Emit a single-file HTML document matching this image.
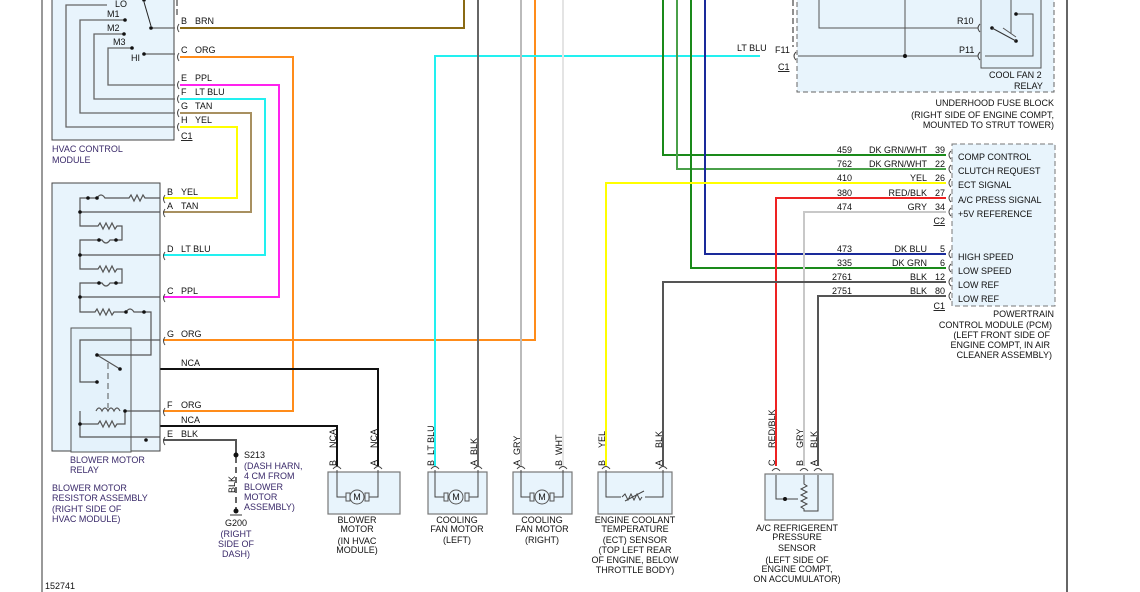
<!DOCTYPE html>
<html><head><meta charset="utf-8"><style>
html,body{margin:0;padding:0;background:#fff}
svg{display:block}
text{font-family:"Liberation Sans",sans-serif;font-size:9px;fill:#111}
.p{fill:#3a2a6a}
</style></head><body>
<svg width="1140" height="592" viewBox="0 0 1140 592" xmlns="http://www.w3.org/2000/svg">
<!-- frame -->
<line x1="42" y1="0" x2="42" y2="592" stroke="#333" stroke-width="1"/>
<line x1="1067" y1="0" x2="1067" y2="592" stroke="#333" stroke-width="1.5"/>

<!-- HVAC module -->
<rect x="52" y="-2" width="122" height="142" fill="#e8f4fc" stroke="#444"/>
<line x1="177" y1="0" x2="177" y2="16" stroke="#222" stroke-dasharray="6,3"/>
<g stroke="#666" stroke-width="1.3" fill="none">
<path d="M107,5 H66 V127 H175"/>
<path d="M124,20 H80 V113 H175"/>
<path d="M124,34 H94 V99 H175"/>
<path d="M132,48 H108 V85 H175"/>
<path d="M152,28 H175"/>
<path d="M144,54 H175"/>
</g>
<g fill="#111"><circle cx="144" cy="0" r="1.8"/><circle cx="125" cy="20" r="1.8"/><circle cx="124" cy="34" r="1.8"/><circle cx="132" cy="48" r="1.8"/><circle cx="144" cy="54" r="1.8"/><circle cx="151" cy="28" r="1.8"/></g>
<line x1="144" y1="2" x2="151" y2="26" stroke="#222"/>
<text x="115" y="7">LO</text><text x="107" y="17">M1</text><text x="107" y="31">M2</text><text x="113" y="45">M3</text><text x="131" y="61">HI</text>
<text x="52" y="152" class="p">HVAC CONTROL</text><text x="52" y="163" class="p">MODULE</text>
<g fill="none" stroke="#444"><path d="M179,24 q-3,4 0,8 M179,53 q-3,4 0,8 M179,81 q-3,4 0,8 M179,95 q-3,4 0,8 M179,109 q-3,4 0,8 M179,123 q-3,4 0,8"/></g>
<text x="181" y="24">B</text><text x="195" y="24">BRN</text>
<text x="181" y="53">C</text><text x="195" y="53">ORG</text>
<text x="181" y="81">E</text><text x="195" y="81">PPL</text>
<text x="181" y="95">F</text><text x="195" y="95">LT BLU</text>
<text x="181" y="109">G</text><text x="195" y="109">TAN</text>
<text x="181" y="123">H</text><text x="195" y="123">YEL</text>
<text x="181" y="139" text-decoration="underline">C1</text>

<!-- wires -->
<g fill="none" stroke-width="2">
<path d="M180,28 H464 V0" stroke="#8a6a14"/>
<path d="M180,57 H293 V411 H163" stroke="#ff8c1a"/>
<path d="M180,85 H279 V297 H163" stroke="#ff22ee"/>
<path d="M180,99 H265 V255 H163" stroke="#22f0f0"/>
<path d="M180,113 H251 V212 H163" stroke="#a89060"/>
<path d="M180,127 H237 V198 H163" stroke="#ffff00"/>
<path d="M163,340 H535 V0" stroke="#ff8c1a"/>
<path d="M120,369 H378 V466" stroke="#111"/>
<path d="M146,440 V426 H337 V466" stroke="#111"/>
<path d="M163,440 H236 V455" stroke="#555"/>
<path d="M435,466 V56 H760" stroke="#22f0f0"/>
<path d="M478,0 V466" stroke="#666"/>
<path d="M521,0 V466" stroke="#bbb"/>
<path d="M563,0 V466" stroke="#e4e4e4"/>
<path d="M663,0 V155 H946" stroke="#1a8a1a"/>
<path d="M677,0 V169 H946" stroke="#4aa04a"/>
<path d="M691,0 V268 H946" stroke="#1a8a1a"/>
<path d="M705,0 V254 H946" stroke="#1a2a9a"/>
<path d="M606,466 V183 H946" stroke="#ffff00"/>
<path d="M776,466 V198 H946" stroke="#ee2222"/>
<path d="M804,466 V212 H946" stroke="#c8c8c8"/>
<path d="M663,466 V282 H946" stroke="#555"/>
<path d="M818,466 V296 H946" stroke="#555"/>
</g>
<line x1="236" y1="457" x2="236" y2="510" stroke="#333" stroke-dasharray="6,4" stroke-width="1.5"/>
<circle cx="236" cy="455" r="2.5" fill="#111"/><circle cx="236" cy="511" r="2.5" fill="#111"/>
<line x1="230" y1="515" x2="242" y2="515" stroke="#333"/>
<text x="244" y="458">S213</text><text x="244" y="469" class="p">(DASH HARN,</text><text x="244" y="479" class="p">4 CM FROM</text><text x="244" y="490" class="p">BLOWER</text><text x="244" y="500" class="p">MOTOR</text><text x="244" y="510" class="p">ASSEMBLY)</text>
<text transform="translate(235,493) rotate(-90)">BLK</text>
<text x="236" y="526" text-anchor="middle">G200</text><text x="236" y="537" text-anchor="middle" class="p">(RIGHT</text><text x="236" y="547" text-anchor="middle" class="p">SIDE OF</text><text x="236" y="557" text-anchor="middle" class="p">DASH)</text>

<!-- resistor assembly -->
<rect x="52" y="183" width="108" height="268" fill="#e8f4fc" stroke="#444"/>
<rect x="71" y="328" width="60" height="124" fill="#e4f2fb" stroke="#555"/>
<g fill="none" stroke="#555" stroke-width="1.2">
<path d="M160,198 H145 l-2,-3 -3,6 -3,-6 -3,6 -3,-6 -2,3 H105 q-4,-6 -8,0 H80 V212 H160"/>
<path d="M80,212 V226 H98 l2,-3 3,6 3,-6 3,6 3,-6 3,6 2,-3 H122 V240 H110 q-4,6 -8,0 H80 V255 H160"/>
<path d="M80,255 V269 H98 l2,-3 3,6 3,-6 3,6 3,-6 3,6 2,-3 H122 V283 H110 q-4,6 -8,0 H80 V297 H160"/>
<path d="M80,297 V312 H95 l2,-3 3,6 3,-6 3,6 3,-6 3,6 2,-3 H126 q4,-6 8,0 H151 V355 H97"/>
<path d="M160,340 H80 V382 H97"/>
<path d="M160,411 H125 M80,411 V437 H160 M80,424 H98 l2,-3 3,6 3,-6 3,6 3,-6 3,6 2,-3 H125 V411"/>
<path d="M96,411 q3,-6 6,0 q3,-6 6,0 q3,-6 6,0 q3,-6 6,0"/>
<path d="M97,355 L120,369"/>
</g>
<line x1="108" y1="363" x2="108" y2="408" stroke="#555" stroke-dasharray="6,4"/>
<g fill="#111"><circle cx="88" cy="198" r="1.8"/><circle cx="97" cy="198" r="1.8"/><circle cx="80" cy="212" r="1.8"/><circle cx="99" cy="240" r="1.8"/><circle cx="116" cy="240" r="1.8"/><circle cx="80" cy="255" r="1.8"/><circle cx="99" cy="283" r="1.8"/><circle cx="116" cy="283" r="1.8"/><circle cx="80" cy="297" r="1.8"/><circle cx="126" cy="312" r="1.8"/><circle cx="144" cy="312" r="1.8"/><circle cx="97" cy="355" r="1.8"/><circle cx="120" cy="369" r="1.8"/><circle cx="97" cy="382" r="1.8"/><circle cx="125" cy="411" r="1.8"/><circle cx="80" cy="424" r="1.8"/><circle cx="146" cy="440" r="1.8"/></g>
<g fill="none" stroke="#444"><path d="M165,195 q-3,4 0,8 M165,209 q-3,4 0,8 M165,252 q-3,4 0,8 M165,294 q-3,4 0,8 M165,337 q-3,4 0,8 M165,408 q-3,4 0,8 M165,437 q-3,4 0,8"/></g>
<text x="167" y="195">B</text><text x="181" y="195">YEL</text>
<text x="167" y="209">A</text><text x="181" y="209">TAN</text>
<text x="167" y="252">D</text><text x="181" y="252">LT BLU</text>
<text x="167" y="294">C</text><text x="181" y="294">PPL</text>
<text x="167" y="337">G</text><text x="181" y="337">ORG</text>
<text x="181" y="366">NCA</text>
<text x="167" y="408">F</text><text x="181" y="408">ORG</text>
<text x="181" y="423">NCA</text>
<text x="167" y="437">E</text><text x="181" y="437">BLK</text>
<text x="70" y="463" class="p">BLOWER MOTOR</text><text x="70" y="473" class="p">RELAY</text>
<text x="52" y="491" class="p">BLOWER MOTOR</text><text x="52" y="501" class="p">RESISTOR ASSEMBLY</text><text x="52" y="512" class="p">(RIGHT SIDE OF</text><text x="52" y="522" class="p">HVAC MODULE)</text>

<!-- bottom components -->
<g fill="#e8f4fc" stroke="#777" stroke-width="1.2">
<rect x="328" y="472" width="72" height="42"/>
<rect x="428" y="472" width="59" height="42"/>
<rect x="513" y="472" width="59" height="42"/>
<rect x="598" y="472" width="74" height="42"/>
<rect x="765" y="474" width="68" height="46"/>
</g>
<g fill="none" stroke="#444">
<path d="M337,470 V497 H346 M378,470 V497 H369 M435,470 V497 H444 M478,470 V497 H469 M521,470 V497 H530 M563,470 V497 H554 M606,470 V497 H621 M663,470 V497 H645"/>
<path d="M622,497 l3,-3 3,6 3,-6 3,6 3,-6 3,6 2,-3 M625,501 L644,491"/>
<path d="M776,475 V499 H798 M804,475 V484 l3,2 -6,3 6,3 -6,3 6,3 -6,3 6,3 -6,3 3,2 V511 H818 V475"/>
<path d="M333,469 q4,-5 8,0 M374,469 q4,-5 8,0 M431,469 q4,-5 8,0 M474,469 q4,-5 8,0 M517,469 q4,-5 8,0 M559,469 q4,-5 8,0 M602,469 q4,-5 8,0 M659,469 q4,-5 8,0 M772,471 q4,-5 8,0 M800,471 q4,-5 8,0 M814,471 q4,-5 8,0"/>
</g>
<circle cx="785" cy="499" r="2" fill="#111"/>
<g fill="none" stroke="#555">
<rect x="346" y="493" width="4" height="8"/><rect x="365" y="493" width="4" height="8"/><circle cx="357" cy="497" r="7"/>
<rect x="444" y="493" width="4" height="8"/><rect x="465" y="493" width="4" height="8"/><circle cx="456" cy="497" r="7"/>
<rect x="530" y="493" width="4" height="8"/><rect x="550" y="493" width="4" height="8"/><circle cx="542" cy="497" r="7"/>
</g>
<text x="357" y="500" text-anchor="middle">M</text><text x="456" y="500" text-anchor="middle">M</text><text x="542" y="500" text-anchor="middle">M</text>
<g>
<text transform="translate(336,466) rotate(-90)">B</text><text transform="translate(336,448) rotate(-90)">NCA</text>
<text transform="translate(377,466) rotate(-90)">A</text><text transform="translate(377,448) rotate(-90)">NCA</text>
<text transform="translate(434,466) rotate(-90)">B</text><text transform="translate(434,455) rotate(-90)">LT BLU</text>
<text transform="translate(477,466) rotate(-90)">A</text><text transform="translate(477,455) rotate(-90)">BLK</text>
<text transform="translate(520,466) rotate(-90)">A</text><text transform="translate(520,455) rotate(-90)">GRY</text>
<text transform="translate(562,466) rotate(-90)">B</text><text transform="translate(562,455) rotate(-90)">WHT</text>
<text transform="translate(605,466) rotate(-90)">B</text><text transform="translate(605,448) rotate(-90)">YEL</text>
<text transform="translate(662,466) rotate(-90)">A</text><text transform="translate(662,448) rotate(-90)">BLK</text>
<text transform="translate(775,466) rotate(-90)">C</text><text transform="translate(775,448) rotate(-90)">RED/BLK</text>
<text transform="translate(803,466) rotate(-90)">B</text><text transform="translate(803,448) rotate(-90)">GRY</text>
<text transform="translate(817,466) rotate(-90)">A</text><text transform="translate(817,448) rotate(-90)">BLK</text>
</g>
<g text-anchor="middle" class="p">
<text x="357" y="523">BLOWER</text><text x="357" y="532">MOTOR</text><text x="357" y="544">(IN HVAC</text><text x="357" y="553">MODULE)</text>
<text x="457" y="523">COOLING</text><text x="457" y="532">FAN MOTOR</text><text x="457" y="543">(LEFT)</text>
<text x="542" y="523">COOLING</text><text x="542" y="532">FAN MOTOR</text><text x="542" y="543">(RIGHT)</text>
<text x="635" y="523">ENGINE COOLANT</text><text x="635" y="532">TEMPERATURE</text><text x="635" y="543">(ECT) SENSOR</text><text x="635" y="553">(TOP LEFT REAR</text><text x="635" y="563">OF ENGINE, BELOW</text><text x="635" y="573">THROTTLE BODY)</text>
<text x="797" y="531">A/C REFRIGERENT</text><text x="797" y="540">PRESSURE</text><text x="797" y="551">SENSOR</text><text x="797" y="563">(LEFT SIDE OF</text><text x="797" y="572">ENGINE COMPT,</text><text x="797" y="582">ON ACCUMULATOR)</text>
</g>
<text x="45" y="589" font-size="8">152741</text>

<!-- underhood fuse block -->
<rect x="797" y="-5" width="257" height="97" fill="#e8f4fc" stroke="#666" stroke-dasharray="5,3"/>
<rect x="981" y="-2" width="60" height="70" fill="#e4f2fb" stroke="#555"/>
<g fill="none" stroke="#555">
<path d="M819,0 V28 H978 M905,0 V56 M798,56 H978 M1003,28 L1016,37 M1016,14 H1033 V56 H985 M1011,0 V34"/>
</g>
<g fill="#111"><circle cx="905" cy="56" r="2"/><circle cx="992" cy="28" r="1.8"/><circle cx="1016" cy="41" r="1.8"/><circle cx="1016" cy="14" r="1.8"/></g>
<line x1="992" y1="28" x2="1016" y2="41" stroke="#333"/>
<line x1="793" y1="0" x2="793" y2="47" stroke="#222" stroke-dasharray="6,3"/>
<g fill="none" stroke="#444"><path d="M796,52 q-4,4 0,8 M980,24 q-4,4 0,8 M980,52 q-4,4 0,8"/></g>
<text x="737" y="51">LT BLU</text><text x="775" y="53">F11</text><text x="778" y="70" text-decoration="underline">C1</text>
<text x="957" y="24">R10</text><text x="959" y="53">P11</text>
<text x="989" y="78">COOL FAN 2</text><text x="1014" y="89">RELAY</text>
<g text-anchor="end" class="p"><text x="1054" y="106">UNDERHOOD FUSE BLOCK</text><text x="1054" y="118">(RIGHT SIDE OF ENGINE COMPT,</text><text x="1054" y="128">MOUNTED TO STRUT TOWER)</text></g>

<!-- PCM -->
<rect x="952" y="144" width="103" height="162" fill="#e8f4fc" stroke="#777" stroke-dasharray="5,3"/>
<g fill="none" stroke="#444"><path d="M951,151 q-4,4 0,8 M951,165 q-4,4 0,8 M951,179 q-4,4 0,8 M951,194 q-4,4 0,8 M951,208 q-4,4 0,8 M951,250 q-4,4 0,8 M951,264 q-4,4 0,8 M951,278 q-4,4 0,8 M951,292 q-4,4 0,8"/></g>
<g>
<text x="958" y="160">COMP CONTROL</text><text x="958" y="174">CLUTCH REQUEST</text><text x="958" y="188">ECT SIGNAL</text><text x="958" y="203">A/C PRESS SIGNAL</text><text x="958" y="217">+5V REFERENCE</text>
<text x="958" y="260">HIGH SPEED</text><text x="958" y="274">LOW SPEED</text><text x="958" y="288">LOW REF</text><text x="958" y="302">LOW REF</text>
</g>
<g text-anchor="end">
<text x="852" y="153">459</text><text x="927" y="153">DK GRN/WHT</text><text x="945" y="153">39</text>
<text x="852" y="167">762</text><text x="927" y="167">DK GRN/WHT</text><text x="945" y="167">22</text>
<text x="852" y="181">410</text><text x="927" y="181">YEL</text><text x="945" y="181">26</text>
<text x="852" y="196">380</text><text x="927" y="196">RED/BLK</text><text x="945" y="196">27</text>
<text x="852" y="210">474</text><text x="927" y="210">GRY</text><text x="945" y="210">34</text>
<text x="945" y="224" text-decoration="underline">C2</text>
<text x="852" y="252">473</text><text x="927" y="252">DK BLU</text><text x="945" y="252">5</text>
<text x="852" y="266">335</text><text x="927" y="266">DK GRN</text><text x="945" y="266">6</text>
<text x="852" y="280">2761</text><text x="927" y="280">BLK</text><text x="945" y="280">12</text>
<text x="852" y="294">2751</text><text x="927" y="294">BLK</text><text x="945" y="294">80</text>
<text x="945" y="309" text-decoration="underline">C1</text>
</g>
<g text-anchor="end" class="p"><text x="1054" y="317">POWERTRAIN</text><text x="1052" y="328">CONTROL MODULE (PCM)</text><text x="1050" y="338">(LEFT FRONT SIDE OF</text><text x="1050" y="348">ENGINE COMPT, IN AIR</text><text x="1052" y="358">CLEANER ASSEMBLY)</text></g>
</svg>
</body></html>
